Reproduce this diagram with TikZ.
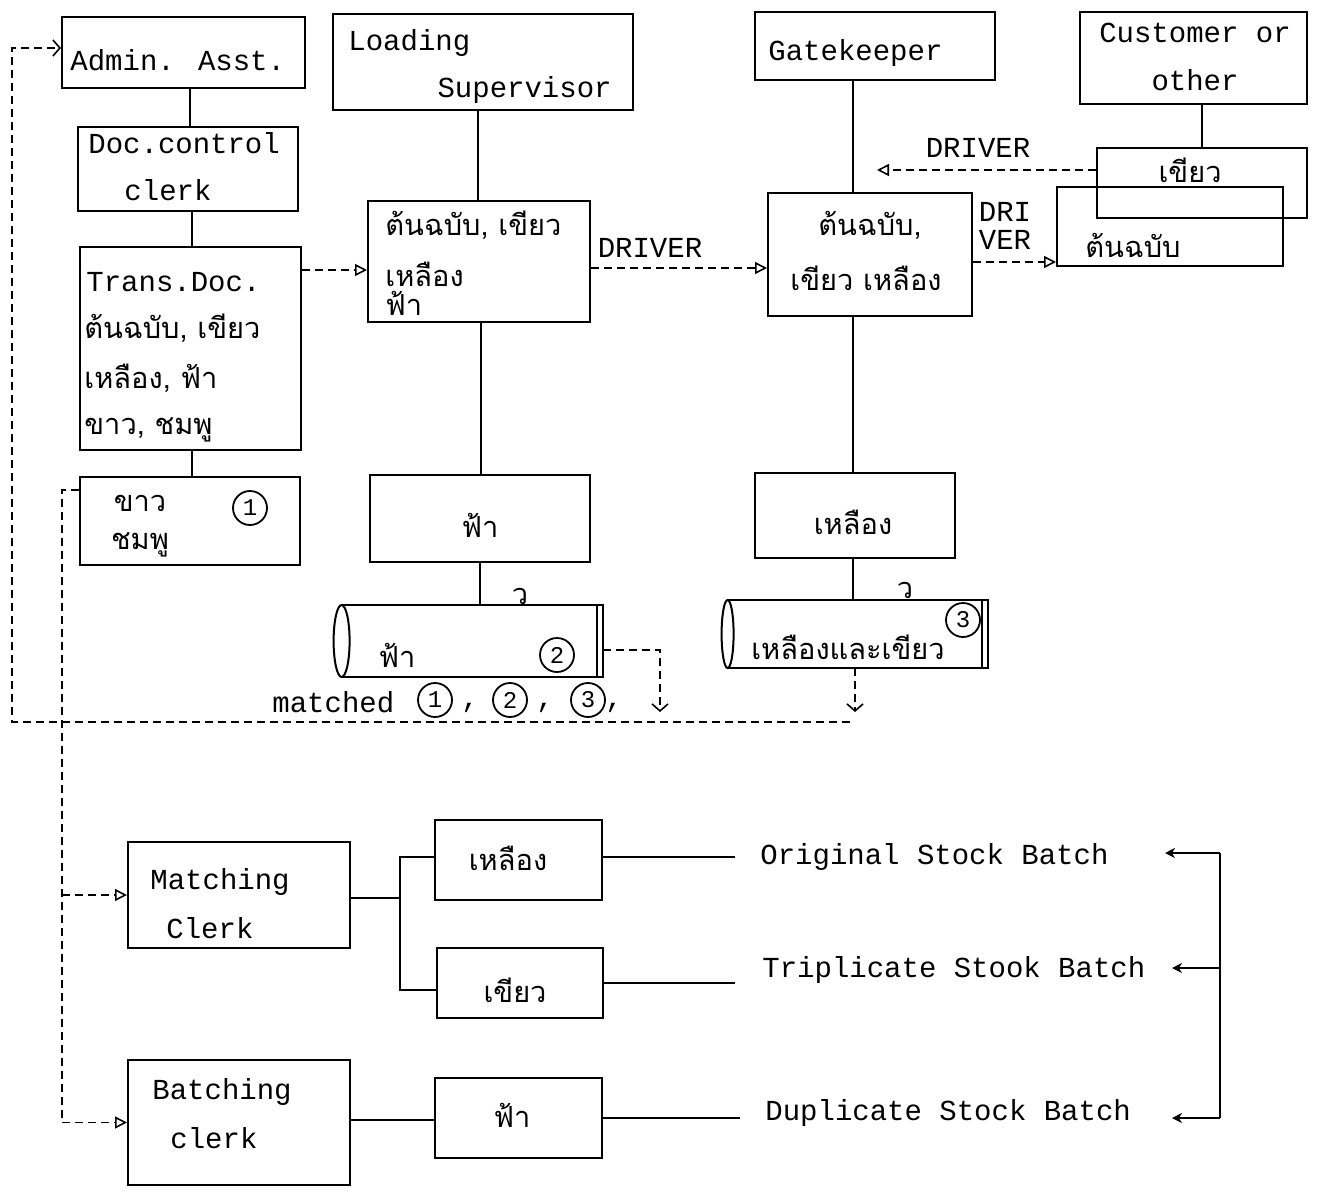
\documentclass[tikz,border=0pt]{standalone}
\usepackage{fontspec}
\setmainfont{Liberation Mono}
\newfontfamily\thaifont[Script=Thai]{Loma}
\newcommand\ttf{\fontsize{14.5}{17}\selectfont}
\newcommand\thf{\thaifont\fontsize{14.5}{17}\selectfont}
\newcommand\numf{\fontsize{12}{13}\selectfont}
\usetikzlibrary{fit,arrows.meta}
\begin{document}
\begin{tikzpicture}[x=0.5pt,y=-0.5pt,
  box/.style={draw,line width=1pt,inner sep=0pt},
  tx/.style={font=\ttf,inner sep=0pt},
  th/.style={font=\thf,inner sep=0pt},
  ln/.style={line width=1pt},
  dl/.style={line width=0.8pt,dash pattern=on 4pt off 2.5pt},
  tri/.style={-{Triangle[open,length=6pt,width=6pt]}},
  vee/.style={-{Straight Barb[length=3.5pt,width=8pt]}},
  lft/.style={-{Stealth[length=5pt,width=5pt]}},
  num/.style={circle,draw,line width=0.9pt,inner sep=0pt,minimum size=17pt,font=\numf}]
\useasboundingbox (0,0) rectangle (1317,1193);

% ---- left column
\node[box,fit={(62,17)(305,88)}] (admin) {};
\node[tx,anchor=west] (adminT) at (70,60) {Admin. Asst.};
\node[box,fit={(78,127)(298,211)}] (doc) {};
\node[tx,anchor=west] (docA) at (88,143) {Doc.control};
\node[tx] (docB) at (168,190) {clerk};
\node[box,fit={(80,247)(301,450)}] (trans) {};
\node[tx,anchor=west] (transT) at (86,282) {Trans.Doc.};
\node[th,anchor=west] (transA) at (84,328) {ต้นฉบับ, เขียว};
\node[th,anchor=west] (transB) at (84,378) {เหลือง, ฟ้า};
\node[th,anchor=west] (transC) at (84,430) {ขาว, ชมพู};
\node[box,fit={(80,477)(300,565)}] (wp) {};
\node[th] (wpA) at (140,503) {ขาว};
\node[th] (wpB) at (140,545) {ชมพู};
\node[num] (n1) at (250,508) {1};
\draw[ln] (doc.north -| 190,0) -- (190,0 |- admin.south);
\draw[ln] (doc.south -| 192,0) -- (192,0 |- trans.north);
\draw[ln] (trans.south -| 192,0) -- (192,0 |- wp.north);

% ---- loading supervisor column
\node[box,fit={(333,14)(633,110)}] (load) {};
\node[tx,anchor=west] (loadA) at (348,43) {Loading};
\node[tx,anchor=east] (loadB) at (612,90) {Supervisor};
\node[box,fit={(368,201)(590,322)}] (l2) {};
\node[th,anchor=west] (l2A) at (385,225) {ต้นฉบับ, เขียว};
\node[th,anchor=west] (l2B) at (385,274) {เหลือง};
\node[th,anchor=west] (l2C) at (385,303) {ฟ้า};
\node[box,fit={(370,475)(590,562)}] (blue) {};
\node[th] (blueT) at (480,525) {ฟ้า};
\node[inner sep=0pt,fit={(342,605)(603,677)}] (cyl1) {};
\draw[ln] (cyl1.north west) -- (cyl1.north east) -- (cyl1.south east) -- (cyl1.south west);
\draw[ln] ([xshift=-3pt]cyl1.north east) -- ([xshift=-3pt]cyl1.south east);
\draw[ln] (cyl1.west) ellipse [x radius=4pt,y radius=18pt];
\node[th] (cyl1T) at (397,655) {ฟ้า};
\node[num] (n2) at (557,655) {2};
\node[th] (cyl1M) at (520,596) {ว};
\draw[ln] (478,0 |- load.south) -- (478,0 |- l2.north);
\draw[ln] (481,0 |- l2.south) -- (481,0 |- blue.north);
\draw[ln] (480,0 |- blue.south) -- (480,0 |- cyl1.north);

% ---- gatekeeper column
\node[box,fit={(755,12)(995,80)}] (gate) {};
\node[tx,anchor=west] (gateT) at (768,53) {Gatekeeper};
\node[box,fit={(768,193)(972,316)}] (g2) {};
\node[th] (g2A) at (870,225) {ต้นฉบับ,};
\node[th] (g2B) at (866,278) {เขียว เหลือง};
\node[box,fit={(755,473)(955,558)}] (yel) {};
\node[th] (yelT) at (853,522) {เหลือง};
\node[inner sep=0pt,fit={(728,600)(988,668)}] (cyl2) {};
\draw[ln] (cyl2.north west) -- (cyl2.north east) -- (cyl2.south east) -- (cyl2.south west);
\draw[ln] ([xshift=-3pt]cyl2.north east) -- ([xshift=-3pt]cyl2.south east);
\draw[ln] (cyl2.west) ellipse [x radius=3pt,y radius=17pt];
\node[th] (cyl2T) at (848,647) {เหลืองและเขียว};
\node[num] (n3) at (963,620) {3};
\node[th] (cyl2M) at (905,590) {ว};
\draw[ln] (853,0 |- gate.south) -- (853,0 |- g2.north);
\draw[ln] (853,0 |- g2.south) -- (853,0 |- yel.north);
\draw[ln] (853,0 |- yel.south) -- (853,0 |- cyl2.north);

% ---- customer column
\node[box,fit={(1080,12)(1307,104)}] (cust) {};
\node[tx] (custA) at (1195,33) {Customer or};
\node[tx] (custB) at (1195,80) {other};
\node[box,fit={(1097,148)(1307,218)}] (cg) {};
\node[th] (cgT) at (1190,170) {เขียว};
\node[box,fit={(1057,187)(1283,266)}] (co) {};
\node[th,anchor=west] (coT) at (1085,245) {ต้นฉบับ};
\draw[ln] (1202,0 |- cust.south) -- (1202,0 |- cg.north);

% ---- DRIVER flows
\coordinate (dv) at (877,170);
\draw[dl,tri] (cg.west |- dv) -- (dv);
\node[tx] (drv1) at (978,148) {DRIVER};
\draw[dl,tri] (trans.east |- 0,270) -- (l2.west |- 0,270);
\draw[dl,tri] (l2.east |- 0,268) -- (g2.west |- 0,268);
\node[tx] (drv2) at (650,248) {DRIVER};
\draw[dl,tri] (g2.east |- 0,262) -- (co.west |- 0,262);
\node[tx,align=left,font=\fontsize{14.5}{14}\selectfont] (drv3) at (1005,226) {DRI\\VER};

% ---- matched / feedback
\coordinate (a1) at (660,712);
\coordinate (a2) at (855,712);
\draw[dl,vee] (cyl1.east |- 0,650) -| (a1);
\draw[dl,vee] (cyl2.south -| a2) -- (a2);
\node[tx,anchor=west] (matched) at (272,702) {matched};
\node[num] (m1) at (435,700) {1};
\node[tx] (c1) at (470,708) {,};
\node[num] (m2) at (510,700) {2};
\node[tx] (c2) at (545,708) {,};
\node[num] (m3) at (588,700) {3};
\node[tx] (c3) at (614,708) {,};
\coordinate (fb) at (850,722);
\coordinate (fbc) at (12,48);
\draw[dl,vee] (fb) -| (fbc) -- (admin.west |- fbc);

% ---- lower part
\node[box,fit={(128,842)(350,948)}] (match) {};
\node[tx,anchor=west] (matchA) at (150,882) {Matching};
\node[tx,anchor=west] (matchB) at (166,928) {Clerk};
\node[box,fit={(128,1060)(350,1185)}] (batch) {};
\node[tx,anchor=west] (batchA) at (152,1092) {Batching};
\node[tx,anchor=west] (batchB) at (170,1138) {clerk};
\coordinate (lb) at (62,490);
\draw[dl] (wp.west |- lb) -- (lb) -- (lb |- batch.west);
\draw[dl,tri] (lb |- match.west) -- (match.west);
\draw[dl,tri] (lb |- batch.west) -- (batch.west);

\node[box,fit={(435,820)(602,900)}] (yel2) {};
\node[th] (yel2T) at (508,858) {เหลือง};
\node[box,fit={(437,948)(603,1018)}] (grn2) {};
\node[th] (grn2T) at (515,990) {เขียว};
\node[box,fit={(435,1078)(602,1158)}] (blu2) {};
\node[th] (blu2T) at (512,1115) {ฟ้า};
\coordinate (br) at (400,898);
\draw[ln] (match.east |- br) -- (br);
\draw[ln] (yel2.west |- 0,857) -| (br) |- (grn2.west |- 0,990);
\draw[ln] (batch.east |- 0,1120) -- (blu2.west |- 0,1120);

\node[tx,anchor=west] (orig) at (760,857) {Original Stock Batch};
\node[tx,anchor=west] (trip) at (762,970) {Triplicate Stook Batch};
\node[tx,anchor=west] (dup) at (765,1113) {Duplicate Stock Batch};
\draw[ln] (yel2.east |- 0,857) -- (735,857);
\draw[ln] (grn2.east |- 0,983) -- (735,983);
\draw[ln] (blu2.east |- 0,1118) -- (740,1118);
\coordinate (rt) at (1220,853);
\coordinate (rm) at (1220,968);
\coordinate (rb) at (1220,1118);
\draw[ln] (rt) -- (rb);
\draw[ln,lft] (rt) -- (1165,853);
\draw[ln,lft] (rm) -- (1172,968);
\draw[ln,lft] (rb) -- (1172,1118);
\end{tikzpicture}
\end{document}
